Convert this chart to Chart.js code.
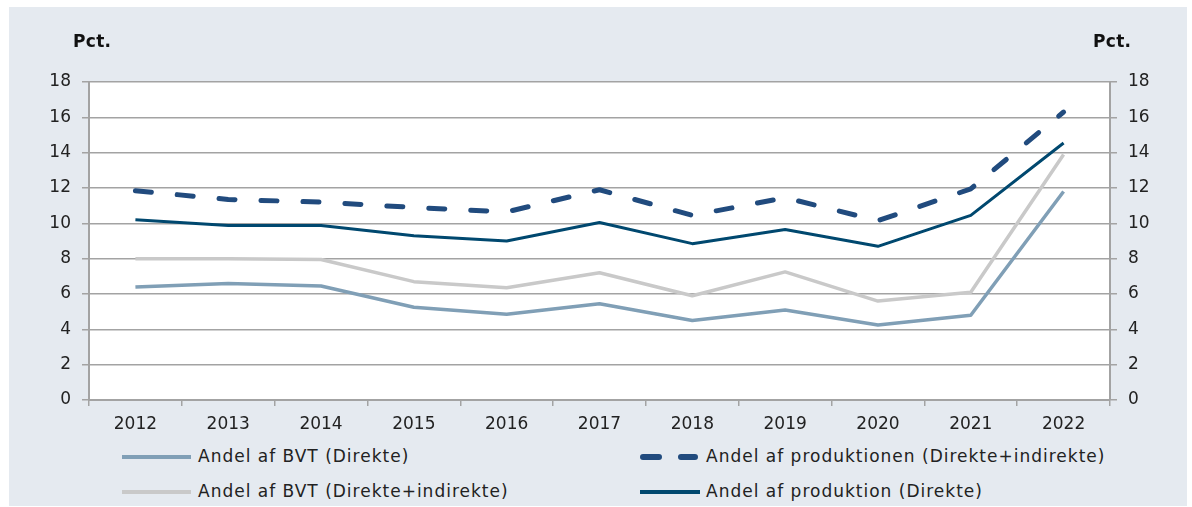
<!DOCTYPE html>
<html>
<head>
<meta charset="utf-8">
<script src="https://cdn.jsdelivr.net/npm/chart.js@4.4.0/dist/chart.umd.min.js"></script>
<style>
  html, body { margin: 0; padding: 0; background: #fff; }
  #wrap { position: relative; width: 1192px; height: 507px; overflow: hidden; }
  #bg { position: absolute; left: 9px; top: 7px; width: 1178px; height: 499px; background: #E5EAF0; }
  #cv { position: absolute; left: 0; top: 0; }
  .unit { position: absolute; top: 31px; font: bold 17px "DejaVu Sans", sans-serif; letter-spacing: 0.3px; color: #111; }
  .leg { position: absolute; font: 17px "DejaVu Sans", sans-serif; letter-spacing: 1px; color: #222; white-space: nowrap; }
  .leg svg { position: absolute; top: 0; }
</style>
</head>
<body>
<div id="wrap">
  <div id="bg"></div>
  <canvas id="cv" width="1192" height="440"></canvas>
  <div class="unit" style="left:73px">Pct.</div>
  <div class="unit" style="left:1093px">Pct.</div>
  <div id="legend"></div>
</div>
<script>
// årstal og værdier
const years = ["2012", "2013", "2014", "2015", "2016", "2017", "2018", "2019", "2020", "2021", "2022"];
const bvtDirekte = [6.4, 6.6, 6.45, 5.25, 4.85, 5.45, 4.5, 5.1, 4.25, 4.8, 11.8];
const bvtDirIndir = [8.0, 8.0, 7.95, 6.7, 6.35, 7.2, 5.9, 7.25, 5.6, 6.1, 13.9];
const prodDirIndir = [11.85, 11.35, 11.2, 10.9, 10.65, 11.9, 10.45, 11.45, 10.15, 11.95, 16.3];
const prodDirekte = [10.2, 9.88, 9.88, 9.3, 9.0, 10.05, 8.85, 9.65, 8.7, 10.45, 14.55];
const yTicks = [0, 2, 4, 6, 8, 10, 12, 14, 16, 18];

const COL_BVT = "#809FB6";
const COL_BVT2 = "#C9C9C9";
const COL_DASH = "#214B7E";
const COL_DARK = "#00486F";
const GRID = "#A3A3A3";
const FONT = { family: "'DejaVu Sans', sans-serif", size: 17 };

const series = [
    { label: "Andel af BVT (Direkte)", data: bvtDirekte, color: COL_BVT, width: 3.5, dash: [] },
    { label: "Andel af BVT (Direkte+indirekte)", data: bvtDirIndir, color: COL_BVT2, width: 3.5, dash: [] },
    { label: "Andel af produktion (Direkte)", data: prodDirekte, color: COL_DARK, width: 3, dash: [] },
    { label: "Andel af produktionen (Direkte+indirekte)", data: prodDirIndir, color: COL_DASH, width: 5, dash: [16, 26] },
];

// hvid baggrund i plotområdet + lidt bredere skrift (Verdana-agtig)
const plotBg = {
    id: "plotBg",
    beforeInit(chart) { chart.ctx.letterSpacing = "1px"; },
    beforeDraw(chart) {
        const { ctx, chartArea: a } = chart;
        ctx.save();
        ctx.fillStyle = "#fff";
        ctx.fillRect(a.left, a.top, a.right - a.left, a.bottom - a.top);
        ctx.restore();
    },
};

function yAxis(position, width) {
    return {
        type: "linear",
        position,
        min: 0,
        max: 18,
        afterBuildTicks: (s) => { s.ticks = yTicks.map((v) => ({ value: v })); },
        afterFit: (s) => { s.width = width; },
        ticks: { color: "#222", font: FONT, padding: 11 },
        grid: {
            color: GRID,
            lineWidth: 1.5,
            tickLength: 7,
            drawOnChartArea: position === "left",
        },
        border: { color: GRID, width: 2 },
    };
}

new Chart(document.getElementById("cv").getContext("2d"), {
    type: "line",
    data: {
        labels: years,
        datasets: series.map((s) => ({
            label: s.label,
            data: s.data,
            yAxisID: "y",
            borderColor: s.color,
            borderWidth: s.width,
            borderDash: s.dash,
            borderCapStyle: s.dash.length ? "round" : "butt",
            borderJoinStyle: "round",
            pointRadius: 0,
            tension: 0,
            fill: false,
        })),
    },
    options: {
        responsive: false,
        animation: false,
        layout: { padding: { top: 82, left: 0, right: 0, bottom: 0 } },
        scales: {
            x: {
                offset: true,
                afterFit: (s) => { s.height = 40; },
                ticks: { color: "#222", font: FONT, padding: 8, maxRotation: 0 },
                grid: { offset: true, drawOnChartArea: false, color: GRID, tickLength: 6, lineWidth: 1.5 },
                border: { color: GRID, width: 2 },
            },
            y: yAxis("left", 89),
            y2: yAxis("right", 82),
        },
        plugins: {
            legend: { display: false },
            tooltip: { enabled: false },
        },
    },
    plugins: [plotBg],
});

// forklaring under figuren, to kolonner
const legendPos = [
    { s: series[0], x: 122, y: 446, w: 69 },
    { s: series[3], x: 640, y: 446, w: 58 },
    { s: series[1], x: 122, y: 481, w: 69 },
    { s: series[2], x: 640, y: 481, w: 60 },
];
const legend = document.getElementById("legend");
legendPos.forEach((p) => {
    const el = document.createElement("div");
    el.className = "leg";
    el.style.left = p.x + "px";
    el.style.top = p.y + "px";
    const dash = p.s.dash.length ? ' stroke-dasharray="16 22" stroke-linecap="round"' : "";
    const x0 = p.s.dash.length ? 3 : 0;
    el.innerHTML =
        `<svg width="${p.w + 4}" height="22" style="left:0"><line x1="${x0}" y1="11" x2="${p.w - x0}" y2="11" stroke="${p.s.color}" stroke-width="${p.s.dash.length ? 6 : 4}"${dash}/></svg>` +
        `<span style="position:absolute;left:${p.x === 122 ? 76 : 66}px;top:0">${p.s.label}</span>`;
    legend.appendChild(el);
});
</script>
</body>
</html>
